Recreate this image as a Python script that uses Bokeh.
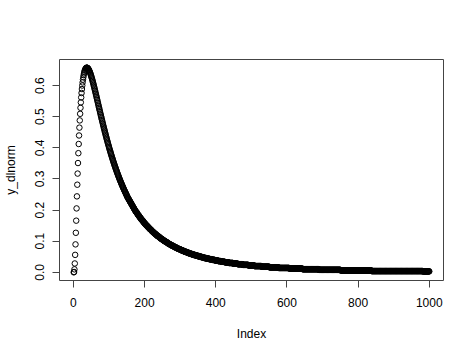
import numpy as np
from bokeh.plotting import figure
from bokeh.models import Range1d, FixedTicker, ColumnDataSource
from bokeh.embed import file_html
from bokeh.resources import INLINE

# y_dlnorm values, index 1..150 (steep rise and early fall)
y_head = [
    0.0000, 0.0010, 0.0095, 0.0284, 0.0561, 0.0898, 0.1270, 0.1660, 0.2054, 0.2441,
    0.2816, 0.3173, 0.3512, 0.3829, 0.4124, 0.4398, 0.4650, 0.4882, 0.5094, 0.5287,
    0.5462, 0.5620, 0.5763, 0.5890, 0.6003, 0.6104, 0.6192, 0.6270, 0.6336, 0.6393,
    0.6441, 0.6481, 0.6513, 0.6538, 0.6556, 0.6569, 0.6575, 0.6577, 0.6573, 0.6566,
    0.6554, 0.6538, 0.6519, 0.6497, 0.6472, 0.6445, 0.6415, 0.6382, 0.6348, 0.6312,
    0.6274, 0.6235, 0.6195, 0.6153, 0.6110, 0.6066, 0.6021, 0.5976, 0.5929, 0.5883,
    0.5835, 0.5787, 0.5739, 0.5691, 0.5642, 0.5593, 0.5544, 0.5495, 0.5446, 0.5397,
    0.5347, 0.5298, 0.5249, 0.5200, 0.5152, 0.5103, 0.5055, 0.5007, 0.4959, 0.4911,
    0.4864, 0.4817, 0.4770, 0.4723, 0.4677, 0.4631, 0.4586, 0.4541, 0.4496, 0.4452,
    0.4408, 0.4364, 0.4321, 0.4278, 0.4236, 0.4193, 0.4152, 0.4111, 0.4070, 0.4029,
    0.3989, 0.3950, 0.3910, 0.3872, 0.3833, 0.3795, 0.3757, 0.3720, 0.3683, 0.3646,
    0.3610, 0.3575, 0.3539, 0.3504, 0.3470, 0.3435, 0.3401, 0.3368, 0.3335, 0.3302,
    0.3270, 0.3238, 0.3206, 0.3175, 0.3144, 0.3113, 0.3083, 0.3053, 0.3023, 0.2994,
    0.2965, 0.2936, 0.2908, 0.2880, 0.2852, 0.2825, 0.2798, 0.2771, 0.2745, 0.2719,
    0.2693, 0.2667, 0.2642, 0.2617, 0.2592, 0.2568, 0.2544, 0.2520, 0.2496, 0.2473,
]

# long slowly-decaying tail (index 151..1000), read as value levels and how many
# consecutive points sit at each level
tail_values = [
    0.244, 0.242, 0.240, 0.238, 0.236, 0.234, 0.232, 0.230, 0.228, 0.226,
    0.224, 0.222, 0.220, 0.218, 0.216, 0.214, 0.212, 0.210, 0.208, 0.206,
    0.204, 0.202, 0.200, 0.198, 0.196, 0.194, 0.192, 0.190, 0.188, 0.186,
    0.184, 0.182, 0.180, 0.178, 0.176, 0.174, 0.172, 0.170, 0.168, 0.166,
    0.164, 0.162, 0.160, 0.158, 0.156, 0.154, 0.152, 0.150, 0.148, 0.146,
    0.144, 0.142, 0.140, 0.138, 0.136, 0.134, 0.132, 0.130, 0.128, 0.126,
    0.124, 0.122, 0.120, 0.118, 0.116, 0.114, 0.112, 0.110, 0.108, 0.106,
    0.104, 0.102, 0.100, 0.098, 0.096, 0.094, 0.092, 0.090, 0.088, 0.086,
    0.084, 0.082, 0.080, 0.078, 0.076, 0.074, 0.072, 0.070, 0.068, 0.066,
    0.064, 0.062, 0.060, 0.058, 0.056, 0.054, 0.052, 0.050, 0.048, 0.046,
    0.044, 0.042, 0.040, 0.038, 0.036, 0.034, 0.032, 0.030, 0.028, 0.026,
    0.024, 0.022, 0.020, 0.018, 0.016, 0.014, 0.012, 0.010, 0.008, 0.006,
    0.004, 0.003,
]
tail_counts = [
    1, 1, 1, 1, 1, 1, 1, 1, 1, 1,
    1, 1, 1, 1, 1, 1, 1, 1, 1, 1,
    1, 1, 1, 1, 1, 2, 1, 1, 1, 1,
    2, 1, 1, 1, 2, 1, 1, 2, 1, 2,
    1, 1, 2, 1, 2, 1, 2, 2, 1, 2,
    2, 1, 2, 2, 2, 1, 2, 2, 2, 2,
    2, 2, 2, 2, 3, 2, 2, 2, 3, 2,
    3, 2, 3, 3, 3, 2, 3, 3, 3, 4,
    3, 3, 4, 3, 4, 4, 4, 4, 4, 5,
    4, 5, 5, 5, 6, 6, 6, 6, 6, 7,
    8, 8, 8, 9, 9, 10, 11, 12, 13, 14,
    16, 17, 20, 22, 26, 30, 37, 46, 61, 87,
    144, 19,
]

x_ticks = [0, 200, 400, 600, 800, 1000]
y_ticks = [0.0, 0.1, 0.2, 0.3, 0.4, 0.5, 0.6]
y_tick_labels = ["0.0", "0.1", "0.2", "0.3", "0.4", "0.5", "0.6"]
x_title = "Index"
y_title = "y_dlnorm"

y_dlnorm = np.concatenate([np.array(y_head), np.repeat(tail_values, tail_counts)])
index = np.arange(1, len(y_dlnorm) + 1)
src = ColumnDataSource(data=dict(index=index, y=y_dlnorm))

# R-style 4% range extension
xmin, xmax = index.min(), index.max()
ymin, ymax = float(y_dlnorm.min()), float(y_dlnorm.max())
dx = (xmax - xmin) * 0.04
dy = (ymax - ymin) * 0.04

p = figure(width=474, height=355, output_backend="svg", toolbar_location=None,
           x_range=Range1d(xmin - dx, xmax + dx), y_range=Range1d(ymin - dy, ymax + dy),
           min_border_left=59, min_border_right=31, min_border_top=59, min_border_bottom=75)
p.background_fill_color = "white"
p.border_fill_color = "white"
p.outline_line_color = "#444444"
p.outline_line_width = 1
p.xgrid.visible = False
p.ygrid.visible = False

p.scatter("index", "y", source=src, marker="circle", size=5.5,
          fill_color=None, line_color="black", line_width=1)

font = "Liberation Sans"
for ax in (p.xaxis[0], p.yaxis[0]):
    ax.axis_line_color = None
    ax.major_tick_out = 7
    ax.major_tick_in = 0
    ax.minor_tick_out = 0
    ax.minor_tick_in = 0
    ax.major_tick_line_color = "#444444"
    ax.major_label_text_font = font
    ax.major_label_text_font_size = "12px"
    ax.major_label_text_color = "black"
    ax.axis_label_text_font = font
    ax.axis_label_text_font_size = "12px"
    ax.axis_label_text_font_style = "normal"
    ax.axis_label_text_color = "black"
    ax.axis_label_text_line_height = 1.0
    ax.major_label_text_line_height = 1.0

p.xaxis.ticker = FixedTicker(ticks=x_ticks)
p.yaxis.ticker = FixedTicker(ticks=y_ticks)
p.yaxis.major_label_overrides = {t: l for t, l in zip(y_ticks, y_tick_labels)}
p.yaxis.major_label_orientation = "vertical"
p.xaxis.major_label_standoff = 10
p.yaxis.major_label_standoff = 8
p.xaxis.axis_label = x_title
p.yaxis.axis_label = y_title
p.xaxis.axis_label_standoff = 17
p.yaxis.axis_label_standoff = 15

open("out.html", "w").write(file_html(p, INLINE))
